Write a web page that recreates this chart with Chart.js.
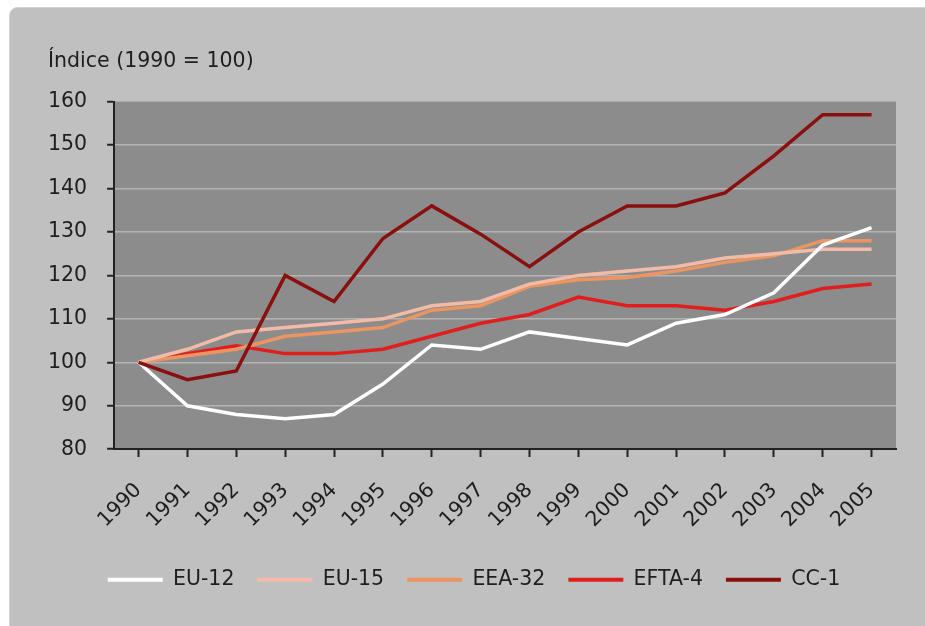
<!DOCTYPE html>
<html>
<head>
<meta charset="utf-8">
<script src="https://cdn.jsdelivr.net/npm/chart.js@4"></script>
<style>
  html, body { margin: 0; padding: 0; background: #ffffff; }
  #wrap { width: 925px; height: 626px; }
</style>
</head>
<body>
<div id="wrap"><canvas id="grafico" width="925" height="626"></canvas></div>
<script>
const anios = ["1990", "1991", "1992", "1993", "1994", "1995", "1996", "1997",
  "1998", "1999", "2000", "2001", "2002", "2003", "2004", "2005"];

const eu12 = [100, 90, 88, 87, 88, 95, 104, 103, 107, 105.5, 104, 109, 111, 116, 127, 131];
const eu15 = [100, 103, 107, 108, 109, 110, 113, 114, 118, 120, 121, 122, 124, 125, 126, 126];
const eea32 = [100, 101.5, 103, 106, 107, 108, 112, 113, 117.5, 119, 119.5, 121, 123, 124.5, 128, 128];
const efta4 = [100, 102, 103.8, 102, 102, 103, 106, 109, 111, 115, 113, 113, 112, 114, 117, 118];
const cc1 = [100, 96, 98, 120, 114, 128.5, 136, 129.5, 122, 130, 136, 136, 139, 147.5, 157, 157];

const tituloEje = "Índice (1990 = 100)";
const fuente = "DejaVu Sans";
const tam = 20.5;

// fondo gris del panel y del area del grafico
const fondo = {
  id: "fondo",
  afterLayout(chart) {
    // el titulo va alineado con las etiquetas del eje y, la leyenda un poco a la derecha
    chart.titleBlock.left += 20;
    chart.legend.left += 12;
    chart.legend.right += 12;
  },
  beforeDraw(chart) {
    const c = chart.ctx;
    const a = chart.chartArea;
    c.save();
    c.fillStyle = "#ffffff";
    c.fillRect(0, 0, chart.width, chart.height);
    c.fillStyle = "#c0c0c0";
    c.strokeStyle = "#d2d2d2";
    c.lineWidth = 1;
    c.beginPath();
    c.roundRect(9.5, 7.5, chart.width, chart.height, 8);
    c.fill();
    c.stroke();
    c.fillStyle = "#8c8c8c";
    c.fillRect(a.left, a.top, a.right - a.left, a.bottom - a.top);
    c.restore();
  },
};

function serie(label, data, color, orden) {
  return {
    label: label,
    data: data,
    borderColor: color,
    backgroundColor: color,
    borderWidth: 3.5,
    pointRadius: 0,
    tension: 0,
    order: orden,
  };
}

const ctx = document.getElementById("grafico").getContext("2d");

new Chart(ctx, {
  type: "line",
  data: {
    labels: anios,
    datasets: [
      serie("EU-12", eu12, "#ffffff", 1),
      serie("EU-15", eu15, "#f2bba8", 1),
      serie("EEA-32", eea32, "#ea9562", 1),
      serie("EFTA-4", efta4, "#e01e1e", 1),
      serie("CC-1", cc1, "#8a0f0f", 0),
    ],
  },
  plugins: [fondo],
  options: {
    responsive: false,
    animation: false,
    devicePixelRatio: 1,
    layout: { padding: { left: 28, right: 29, top: 49, bottom: 26 } },
    plugins: {
      title: {
        display: true,
        text: tituloEje,
        align: "start",
        color: "#1e1e1e",
        font: { family: fuente, size: tam, weight: "normal" },
        padding: { top: 0, bottom: 28 },
      },
      legend: {
        position: "bottom",
        labels: {
          boxWidth: 55,
          boxHeight: 4,
          padding: 23,
          color: "#1e1e1e",
          font: { family: fuente, size: tam },
          sort: (a, b) => a.datasetIndex - b.datasetIndex,
          generateLabels: (chart) =>
            Chart.defaults.plugins.legend.labels.generateLabels(chart).map((l) => ({ ...l, lineWidth: 0 })),
        },
      },
      tooltip: { enabled: false },
    },
    scales: {
      x: {
        offset: true,
        grid: {
          drawOnChartArea: false,
          offset: false,
          tickLength: 15,
          tickBorderDash: [7, 100],
          tickColor: "#222222",
          tickWidth: 2,
        },
        border: { color: "#222222", width: 2 },
        ticks: {
          maxRotation: 45,
          minRotation: 45,
          padding: 14,
          color: "#1e1e1e",
          font: { family: fuente, size: tam },
        },
      },
      y: {
        min: 80,
        max: 160,
        grid: {
          color: (c) => (c.tick && c.tick.value === 160 ? "rgba(0,0,0,0)" : "#b4b4b4"),
          lineWidth: 1.5,
          tickLength: 7,
          tickColor: "#222222",
          tickWidth: 2,
        },
        border: { color: "#222222", width: 2 },
        ticks: {
          stepSize: 10,
          padding: 20,
          color: "#1e1e1e",
          font: { family: fuente, size: tam },
        },
      },
    },
  },
});
</script>
</body>
</html>
